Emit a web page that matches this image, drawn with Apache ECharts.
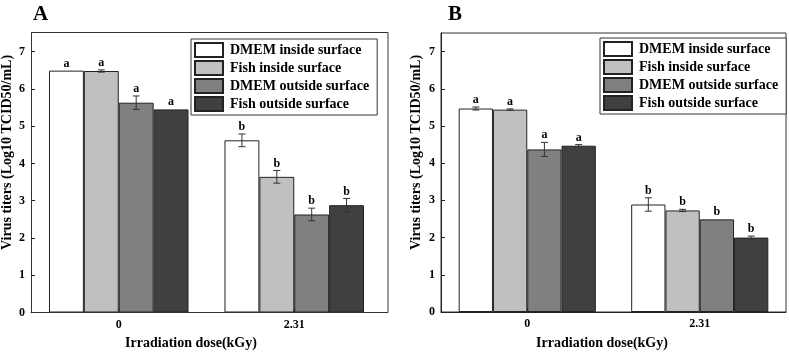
<!DOCTYPE html>
<html>
<head>
<meta charset="utf-8">
<script src="https://cdn.jsdelivr.net/npm/echarts@6/dist/echarts.min.js"></script>
<style>html,body{margin:0;padding:0;background:#fff}#c{width:789px;height:352px}</style>
</head>
<body>
<div id="c"></div>
<script>
// ---- data ----
const categories = ['0', '2.31'];
const seriesNames = ['DMEM inside surface', 'Fish inside surface', 'DMEM outside surface', 'Fish outside surface'];
const yTicksMax = 7.5;

// Panel A means and errors
const aDmemInside = [6.49, 4.62];
const aFishInside = [6.48, 3.64];
const aDmemOutside = [5.63, 2.63];
const aFishOutside = [5.45, 2.88];
const aErrDmemInside = [0.0, 0.17];
const aErrFishInside = [0.03, 0.17];
const aErrDmemOutside = [0.18, 0.17];
const aErrFishOutside = [0.0, 0.18];

// Panel B means and errors
const bDmemInside = [5.47, 2.89];
const bFishInside = [5.44, 2.73];
const bDmemOutside = [4.37, 2.49];
const bFishOutside = [4.47, 2.00];
const bErrDmemInside = [0.04, 0.18];
const bErrFishInside = [0.02, 0.03];
const bErrDmemOutside = [0.19, 0.0];
const bErrFishOutside = [0.03, 0.04];

// significance letters per category
const letters = ['a', 'b'];

const panelTitles = ['A', 'B'];
const yAxisTitle = 'Virus titers (Log10 TCID50/mL)';
const xAxisTitle = 'Irradiation dose(kGy)';

// ---- styling ----
const colors = ['#ffffff', '#c0c0c0', '#808080', '#404040'];
const FONT = '"Liberation Serif", "Times New Roman", serif';
const GAP = 0.205;

const chart = echarts.init(document.getElementById('c'), null, {renderer: 'canvas'});

const panels = [
  {means: [aDmemInside, aFishInside, aDmemOutside, aFishOutside],
   errs: [aErrDmemInside, aErrFishInside, aErrDmemOutside, aErrFishOutside]},
  {means: [bDmemInside, bFishInside, bDmemOutside, bFishOutside],
   errs: [bErrDmemInside, bErrFishInside, bErrDmemOutside, bErrFishOutside]}
];

const grids = [
  {left: 31, top: 33, width: 351, height: 279.5, show: false},
  {left: 441, top: 33, width: 345, height: 279, show: true, borderColor: '#333', borderWidth: 1, backgroundColor: 'transparent'}
];

const xAxes = grids.map((g, i) => ({
  type: 'category', gridIndex: i, data: categories,
  axisLine: {lineStyle: {color: '#222', width: 1}},
  axisTick: {show: true, inside: true, alignWithLabel: true, length: 4, lineStyle: {color: '#222'}},
  axisLabel: {fontFamily: FONT, fontWeight: 'bold', fontSize: 12, color: '#000', margin: 6}
}));

const yAxes = grids.map((g, i) => ({
  type: 'value', gridIndex: i, min: 0, max: yTicksMax, interval: 1,
  splitLine: {show: false},
  axisLine: {show: true, lineStyle: {color: '#222', width: 1}},
  axisTick: {show: true, inside: true, length: 4, lineStyle: {color: '#222'}},
  axisLabel: {fontFamily: FONT, fontWeight: 'bold', fontSize: 12, color: '#000', margin: 6, showMaxLabel: false,
    formatter: v => (Number.isInteger(v) ? String(v) : '')}
}));

const series = [];
panels.forEach((p, pi) => {
  p.means.forEach((vals, si) => {
    series.push({
      type: 'bar', name: seriesNames[si], xAxisIndex: pi, yAxisIndex: pi,
      data: vals, barGap: '0%', barCategoryGap: (GAP * 100) + '%',
      itemStyle: {color: colors[si], borderColor: '#222', borderWidth: 1},
      emphasis: {disabled: true}, animation: false
    });
  });
  const errData = [];
  const errLetters = [];
  p.means.forEach((vals, si) => {
    vals.forEach((v, ci) => {
      errData.push([ci, si, v, p.errs[si][ci]]);
      errLetters.push(letters[ci]);
    });
  });
  series.push({
    type: 'custom', xAxisIndex: pi, yAxisIndex: pi, data: errData, z: 10, animation: false,
    encode: {x: 0, y: 2},
    renderItem: function (params, api) {
      const ci = api.value(0), si = api.value(1), v = api.value(2), e = api.value(3);
      const base = api.coord([ci, v]);
      const bandW = api.size([1, 0])[0];
      const groupW = bandW * (1 - GAP);
      const bw = groupW / 4;
      const x = base[0] - groupW / 2 + bw * (si + 0.5);
      const yT = api.coord([ci, v + e])[1];
      const yB = api.coord([ci, v - e])[1];
      const children = [];
      const ls = {stroke: '#333', lineWidth: 1};
      if (e > 0) {
        children.push({type: 'line', shape: {x1: x, y1: yT, x2: x, y2: yB}, style: ls});
        children.push({type: 'line', shape: {x1: x - 3.5, y1: yT, x2: x + 3.5, y2: yT}, style: ls});
        children.push({type: 'line', shape: {x1: x - 3.5, y1: yB, x2: x + 3.5, y2: yB}, style: ls});
      }
      children.push({type: 'text', x: x, y: Math.min(yT, base[1]) - 1,
        style: {text: errLetters[params.dataIndex], fill: '#000', font: 'bold 12px ' + FONT,
          textAlign: 'center', textVerticalAlign: 'bottom'}});
      return {type: 'group', children: children};
    }
  });
});

const legendCommon = {
  orient: 'vertical', itemWidth: 28, itemHeight: 14, itemGap: 2,
  borderColor: '#333', borderWidth: 1, padding: [3, 8, 3, 3], backgroundColor: '#fff',
  icon: 'rect', selectedMode: false,
  textStyle: {fontFamily: FONT, fontWeight: 'bold', fontSize: 14, lineHeight: 14, color: '#000', padding: [0, 0, 0, 2]},
  data: seriesNames
};

const graphics = [];
// frame for panel A (top and right edges)
graphics.push({type: 'rect', z: 100, shape: {x: 31.5, y: 32.5, width: 356.5, height: 280},
  style: {fill: 'none', stroke: '#333', lineWidth: 1}, silent: true});
// panel letters
graphics.push({type: 'text', left: 33, top: 4, style: {text: panelTitles[0], font: 'bold 21px ' + FONT, fill: '#000'}});
graphics.push({type: 'text', left: 448, top: 4, style: {text: panelTitles[1], font: 'bold 21px ' + FONT, fill: '#000'}});
// y axis titles
[[7.5, 152.5], [416.5, 152.5]].forEach(([x, y]) => {
  graphics.push({type: 'text', x: x, y: y, rotation: Math.PI / 2,
    style: {text: yAxisTitle, font: 'bold 14px ' + FONT, fill: '#000', textAlign: 'center', textVerticalAlign: 'middle'}});
});
// x axis titles
[[191, 343], [602, 343]].forEach(([x, y]) => {
  graphics.push({type: 'text', x: x, y: y,
    style: {text: xAxisTitle, font: 'bold 14px ' + FONT, fill: '#000', textAlign: 'center', textVerticalAlign: 'middle'}});
});

chart.setOption({
  animation: false,
  backgroundColor: '#fff',
  grid: grids,
  xAxis: xAxes,
  yAxis: yAxes,
  legend: [
    Object.assign({left: 191, top: 39}, legendCommon),
    Object.assign({left: 600, top: 38}, legendCommon)
  ],
  series: series,
  graphic: graphics
});
</script>
</body>
</html>
